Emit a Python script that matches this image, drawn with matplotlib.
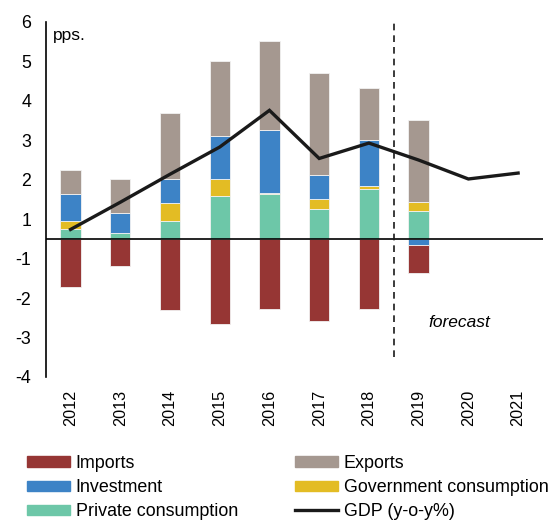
import numpy as np
import matplotlib
matplotlib.use('Agg')
import matplotlib.pyplot as plt
from matplotlib.lines import Line2D
from matplotlib.patches import Patch

plt.rcParams['font.family'] = ['Liberation Sans', 'DejaVu Sans']

years = ['2012', '2013', '2014', '2015', '2016', '2017', '2018', '2019', '2020', '2021']
private = [0.24, 0.16, 0.45, 1.09, 1.13, 0.75, 1.26, 0.71, 0, 0]
government = [0.22, 0.0, 0.47, 0.44, 0.04, 0.27, 0.09, 0.22, 0, 0]
investment = [0.69, 0.49, 0.60, 1.07, 1.59, 0.59, 1.15, -0.15, 0, 0]
exports = [0.59, 0.87, 1.68, 1.92, 2.27, 2.60, 1.32, 2.09, 0, 0]
imports = [-1.21, -0.69, -1.81, -2.16, -1.77, -2.07, -1.77, -0.71, 0, 0]
gdp = [0.24, 0.93, 1.64, 2.33, 3.26, 2.04, 2.43, 2.00, 1.52, 1.67]

ytick_pos = [5.5, 4.5, 3.5, 2.5, 1.5, 0.5, -0.5, -1.5, -2.5, -3.5]
ytick_labels = ['6', '5', '4', '3', '2', '1', '-1', '-2', '-3', '-4']

colors = {
    'Imports': '#963634',
    'Investment': '#3d83c6',
    'Private consumption': '#6dc7a8',
    'Exports': '#a59890',
    'Government consumption': '#e3bc24',
}

fig = plt.figure(figsize=(5.49, 5.21), dpi=100)
ax = fig.add_axes([0.0832, 0.2764, 0.9058, 0.6814])

x = np.arange(len(years))
pos_bottom = np.zeros(len(years))
neg_bottom = np.zeros(len(years))
series = [('Private consumption', private), ('Government consumption', government),
          ('Investment', investment), ('Exports', exports), ('Imports', imports)]
for name, vals in series:
    vals = np.array(vals, dtype=float)
    bottom = np.where(vals >= 0, pos_bottom, neg_bottom)
    ax.bar(x, vals, 0.41, bottom=bottom, color=colors[name],
           edgecolor='#f2f2f2', linewidth=0.6, zorder=2)
    pos_bottom += np.where(vals >= 0, vals, 0)
    neg_bottom += np.where(vals < 0, vals, 0)

ax.axhline(0, color='black', lw=1.2, zorder=3)
ax.plot(x, gdp, color='#1a1a1a', lw=2.4, zorder=4, solid_joinstyle='miter')
ax.plot([6.5, 6.5], [-3.0, 5.5], color='#1a1a1a', lw=1.2, ls=(0, (4, 3)), zorder=3)

ax.text(7.82, -2.12, 'forecast', fontsize=12.5, style='italic', ha='center', va='center')
ax.text(-0.35, 5.17, 'pps.', fontsize=12.5, ha='left', va='center')

ax.set_xlim(-0.5, 9.5)
ax.set_ylim(-3.5, 5.5)
ax.set_xticks(x)
ax.set_xticklabels(years, rotation=90, fontsize=11.7)
ax.set_yticks(ytick_pos)
ax.set_yticklabels(ytick_labels, fontsize=12.8)
ax.tick_params(axis='both', length=0)
ax.tick_params(axis='y', pad=10.5)
ax.tick_params(axis='x', pad=9)
for s in ['top', 'right', 'bottom']:
    ax.spines[s].set_visible(False)
ax.spines['left'].set_linewidth(1.2)

handles = [Patch(color=colors['Imports'], label='Imports'),
           Patch(color=colors['Investment'], label='Investment'),
           Patch(color=colors['Private consumption'], label='Private consumption'),
           Patch(color=colors['Exports'], label='Exports'),
           Patch(color=colors['Government consumption'], label='Government consumption'),
           Line2D([], [], color='#1a1a1a', lw=2.4, label='GDP (y-o-y%)')]
fig.legend(handles=handles, ncol=2, loc='upper left', bbox_to_anchor=(0.05, 0.127),
           frameon=False, fontsize=12.9, handlelength=2.4, handleheight=0.5,
           handletextpad=0.3, columnspacing=3.2, labelspacing=0.4, borderpad=0,
           borderaxespad=0)

fig.savefig('out.png', dpi=100)
